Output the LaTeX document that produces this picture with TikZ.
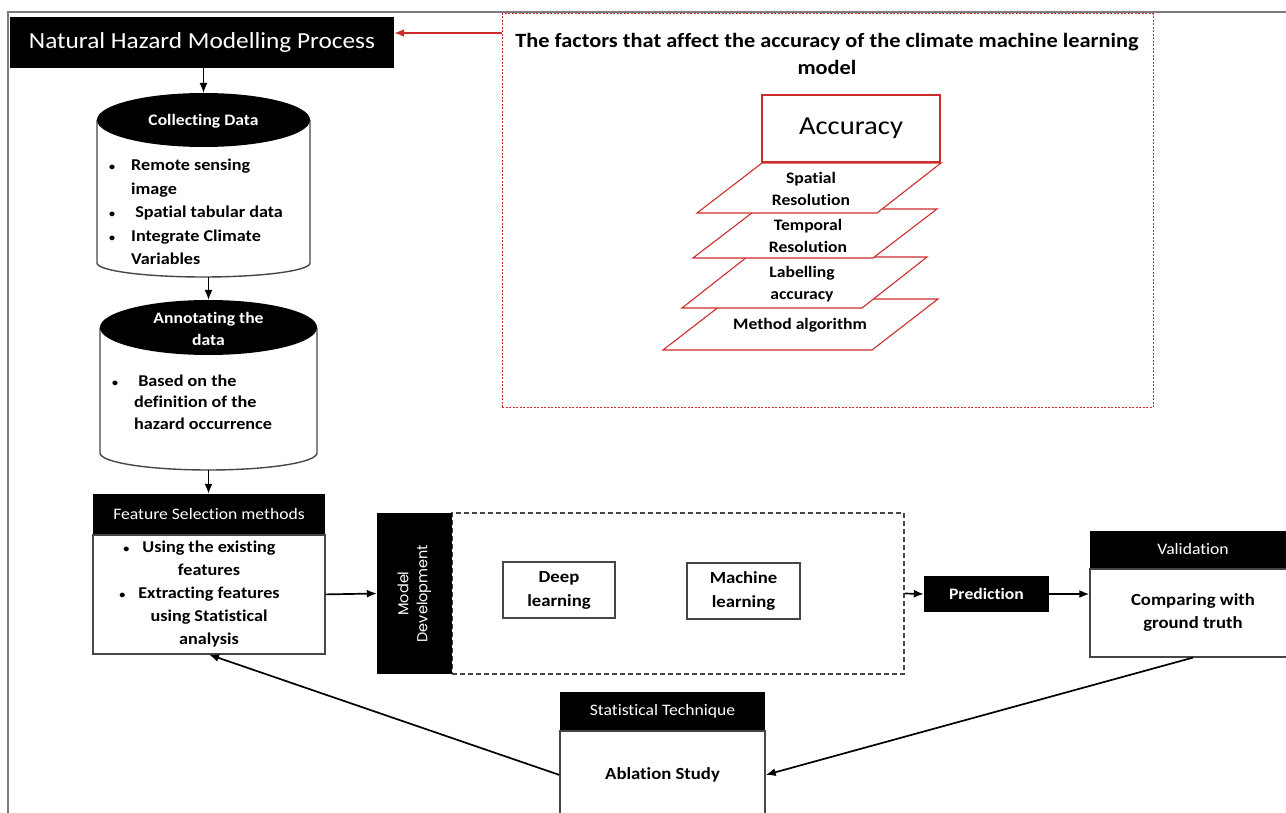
\documentclass[tikz,border=0pt]{standalone}
\usepackage{fontspec}
\setmainfont{Carlito}[FakeStretch=1.1, Ligatures=NoCommon]
\newfontfamily\geofont{Poppins}
\usetikzlibrary{positioning, arrows.meta}

\definecolor{factorred}{RGB}{205,45,45}
\definecolor{framegray}{RGB}{125,125,125}
\definecolor{linegray}{RGB}{70,70,70}

\newcommand{\blt}{\makebox[22pt][l]{\fontsize{11}{11}\selectfont\textbullet}}
\newcommand{\bltpad}{\hspace*{22pt}}
\newcommand{\cblt}{\llap{{\fontsize{11}{11}\selectfont\textbullet}\hspace{13pt}}}

\tikzset{
    headbox/.style={fill=black, text=white, inner sep=2pt, align=center},
    bodybox/.style={draw=linegray, line width=1.4pt, fill=white, inner sep=2pt, align=center},
    plaintext/.style={font=\fontsize{16}{22}\selectfont},
    layerpath/.style={draw=factorred, line width=1.1pt, fill=white},
    layertext/.style={align=center, inner sep=0pt, font=\fontsize{16}{22}\selectfont\bfseries},
    flowarrow/.style={line width=1.7pt, -{Latex[length=10pt, width=8pt]}},
}

\begin{document}
\begin{tikzpicture}[x=1pt, y=-1pt]
    \useasboundingbox (0,0) rectangle (1286,813);
    \fill[white] (0,0) rectangle (1286,813);
    \clip (0,0) rectangle (1286,813);
    \draw[framegray, line width=1.5pt] (8,813) -- (8,12) -- (1286,12);

    % modelling process
    \node[
        headbox,
        minimum width=384pt,
        minimum height=51pt,
        font=\fontsize{23}{26}\selectfont
    ] (title) at (202,42.5) {Natural Hazard Modelling Process};

    \draw[linegray, line width=1.4pt, fill=white] (97,120) -- (97,263)
        arc[start angle=180, end angle=0, x radius=106.5, y radius=14] -- (310,120);
    \fill (203.5,120) ellipse[x radius=106.5, y radius=27];
    \coordinate (collecttop) at (203.5,93);
    \coordinate (collectbot) at (203.5,277);
    \node[text=white, font=\fontsize{16}{22}\selectfont\bfseries] (collect) at (203.5,121) {Collecting Data};
    \node[anchor=west, align=left, inner sep=0pt, font=\fontsize{16.5}{23.5}\selectfont\bfseries] (collectlist) at (109,212)
        {\blt Remote sensing\\ \bltpad image\\ \blt\ Spatial tabular data\\ \blt Integrate Climate\\ \bltpad Variables};

    \draw[linegray, line width=1.4pt, fill=white] (100,327.5) -- (100,453)
        arc[start angle=180, end angle=0, x radius=108.5, y radius=17] -- (317,327.5);
    \fill (208.5,327.5) ellipse[x radius=108.5, y radius=27.5];
    \coordinate (annotop) at (208.5,300);
    \coordinate (annobot) at (208.5,470);
    \node[text=white, align=center, font=\fontsize{16}{22}\selectfont\bfseries] (annotate) at (208.5,329) {Annotating the\\data};
    \node[anchor=west, align=left, inner sep=0pt, font=\fontsize{16.5}{21.5}\selectfont\bfseries] (annotatelist) at (112,402)
        {\blt\ Based on the\\ \bltpad definition of the\\ \bltpad hazard occurrence};

    \node[headbox, plaintext, minimum width=232pt, minimum height=40pt] (feathead) at (209,514) {Feature Selection methods};
    \node[
        bodybox,
        minimum width=232pt,
        minimum height=119pt,
        below=0pt of feathead,
        font=\fontsize{16.5}{23}\selectfont\bfseries
    ] (featbody) {\cblt Using the existing\\features\\\cblt Extracting features\\using Statistical\\analysis};

    % model development
    \node[draw=linegray, dash pattern=on 5pt off 3pt, line width=1.5pt,
        minimum width=452pt, minimum height=161pt] (devbox) at (678,593.5) {};
    \node[fill=black, text=white, rotate=90, minimum width=161pt, minimum height=75pt,
        align=center, font=\geofont\fontsize{14.5}{19}\selectfont] (mdbar) at (414.5,593.5) {Model\\Development};
    \node[bodybox, line width=1.1pt, minimum width=112pt, minimum height=56pt,
        font=\fontsize{17}{24}\selectfont\bfseries] (deep) at (559,590) {Deep\\learning};
    \node[bodybox, line width=1.1pt, minimum width=113pt, minimum height=56pt,
        font=\fontsize{17}{24}\selectfont\bfseries] (mach) at (743.5,591) {Machine\\learning};

    \node[headbox, minimum width=125pt, minimum height=36pt, font=\fontsize{16}{20}\selectfont\bfseries] (pred) at (986.5,594) {Prediction};

    \node[headbox, plaintext, minimum width=206pt, minimum height=37pt] (valhead) at (1193,549.5) {Validation};
    \node[bodybox, minimum width=206pt, minimum height=88pt, below=0pt of valhead,
        font=\fontsize{17}{23}\selectfont\bfseries] (valbody) {Comparing with\\ground truth};

    \node[headbox, plaintext, minimum width=205pt, minimum height=38pt] (stathead) at (662.5,711) {Statistical Technique};
    \node[bodybox, minimum width=205pt, minimum height=88pt, below=0pt of stathead,
        font=\fontsize{17}{23}\selectfont\bfseries] (statbody) {Ablation Study};

    % factors box
    \node[draw=factorred, line width=1pt, dash pattern=on 2pt off 1.5pt,
        minimum width=651pt, minimum height=393pt] (fbox) at (827.5,210.5) {};
    \node[align=center, font=\fontsize{20.3}{27}\selectfont\bfseries] (ftitle) at (827,53.5)
        {The factors that affect the accuracy of the climate machine learning\\model};

    \draw[layerpath] (663,350) -- (872,350) -- (938,299) -- (729,299) -- cycle;
    \node[layertext] (methodtxt) at (800,325) {Method algorithm};
    \draw[layerpath] (682,308) -- (862,308) -- (927,257) -- (747,257) -- cycle;
    \node[layertext] (labeltxt) at (802,284) {Labelling\\accuracy};
    \draw[layerpath] (693,258) -- (873,258) -- (937,209) -- (757,209) -- cycle;
    \node[layertext] (temporaltxt) at (808,236) {Temporal\\Resolution};
    \draw[layerpath] (697,213) -- (877,213) -- (941,163) -- (762,163) -- cycle;
    \node[layertext] (spatialtxt) at (811,189) {Spatial\\Resolution};
    \node[draw=factorred, line width=1.2pt, fill=white, minimum width=178pt, minimum height=67pt,
        font=\fontsize{26}{30}\selectfont] (acc) at (851,128.5) {Accuracy};

    % connectors
    \draw[flowarrow, factorred] (fbox.west |- 0,33) -- (title.east |- 0,33);
    \draw[flowarrow] (title.south -| collecttop) -- (collecttop);
    \draw[flowarrow] (collectbot -| annotop) -- (annotop);
    \draw[flowarrow] (annobot) -- (annobot |- feathead.north);
    \draw[flowarrow] (featbody.east) -- (mdbar.north);
    \draw[flowarrow] (devbox.east) -- (pred.west);
    \draw[flowarrow] (pred.east) -- (pred.east -| valbody.west);
    \draw[flowarrow] (valbody.south) -- (statbody.east);
    \draw[flowarrow] (statbody.west) -- (featbody.south);
\end{tikzpicture}
\end{document}
